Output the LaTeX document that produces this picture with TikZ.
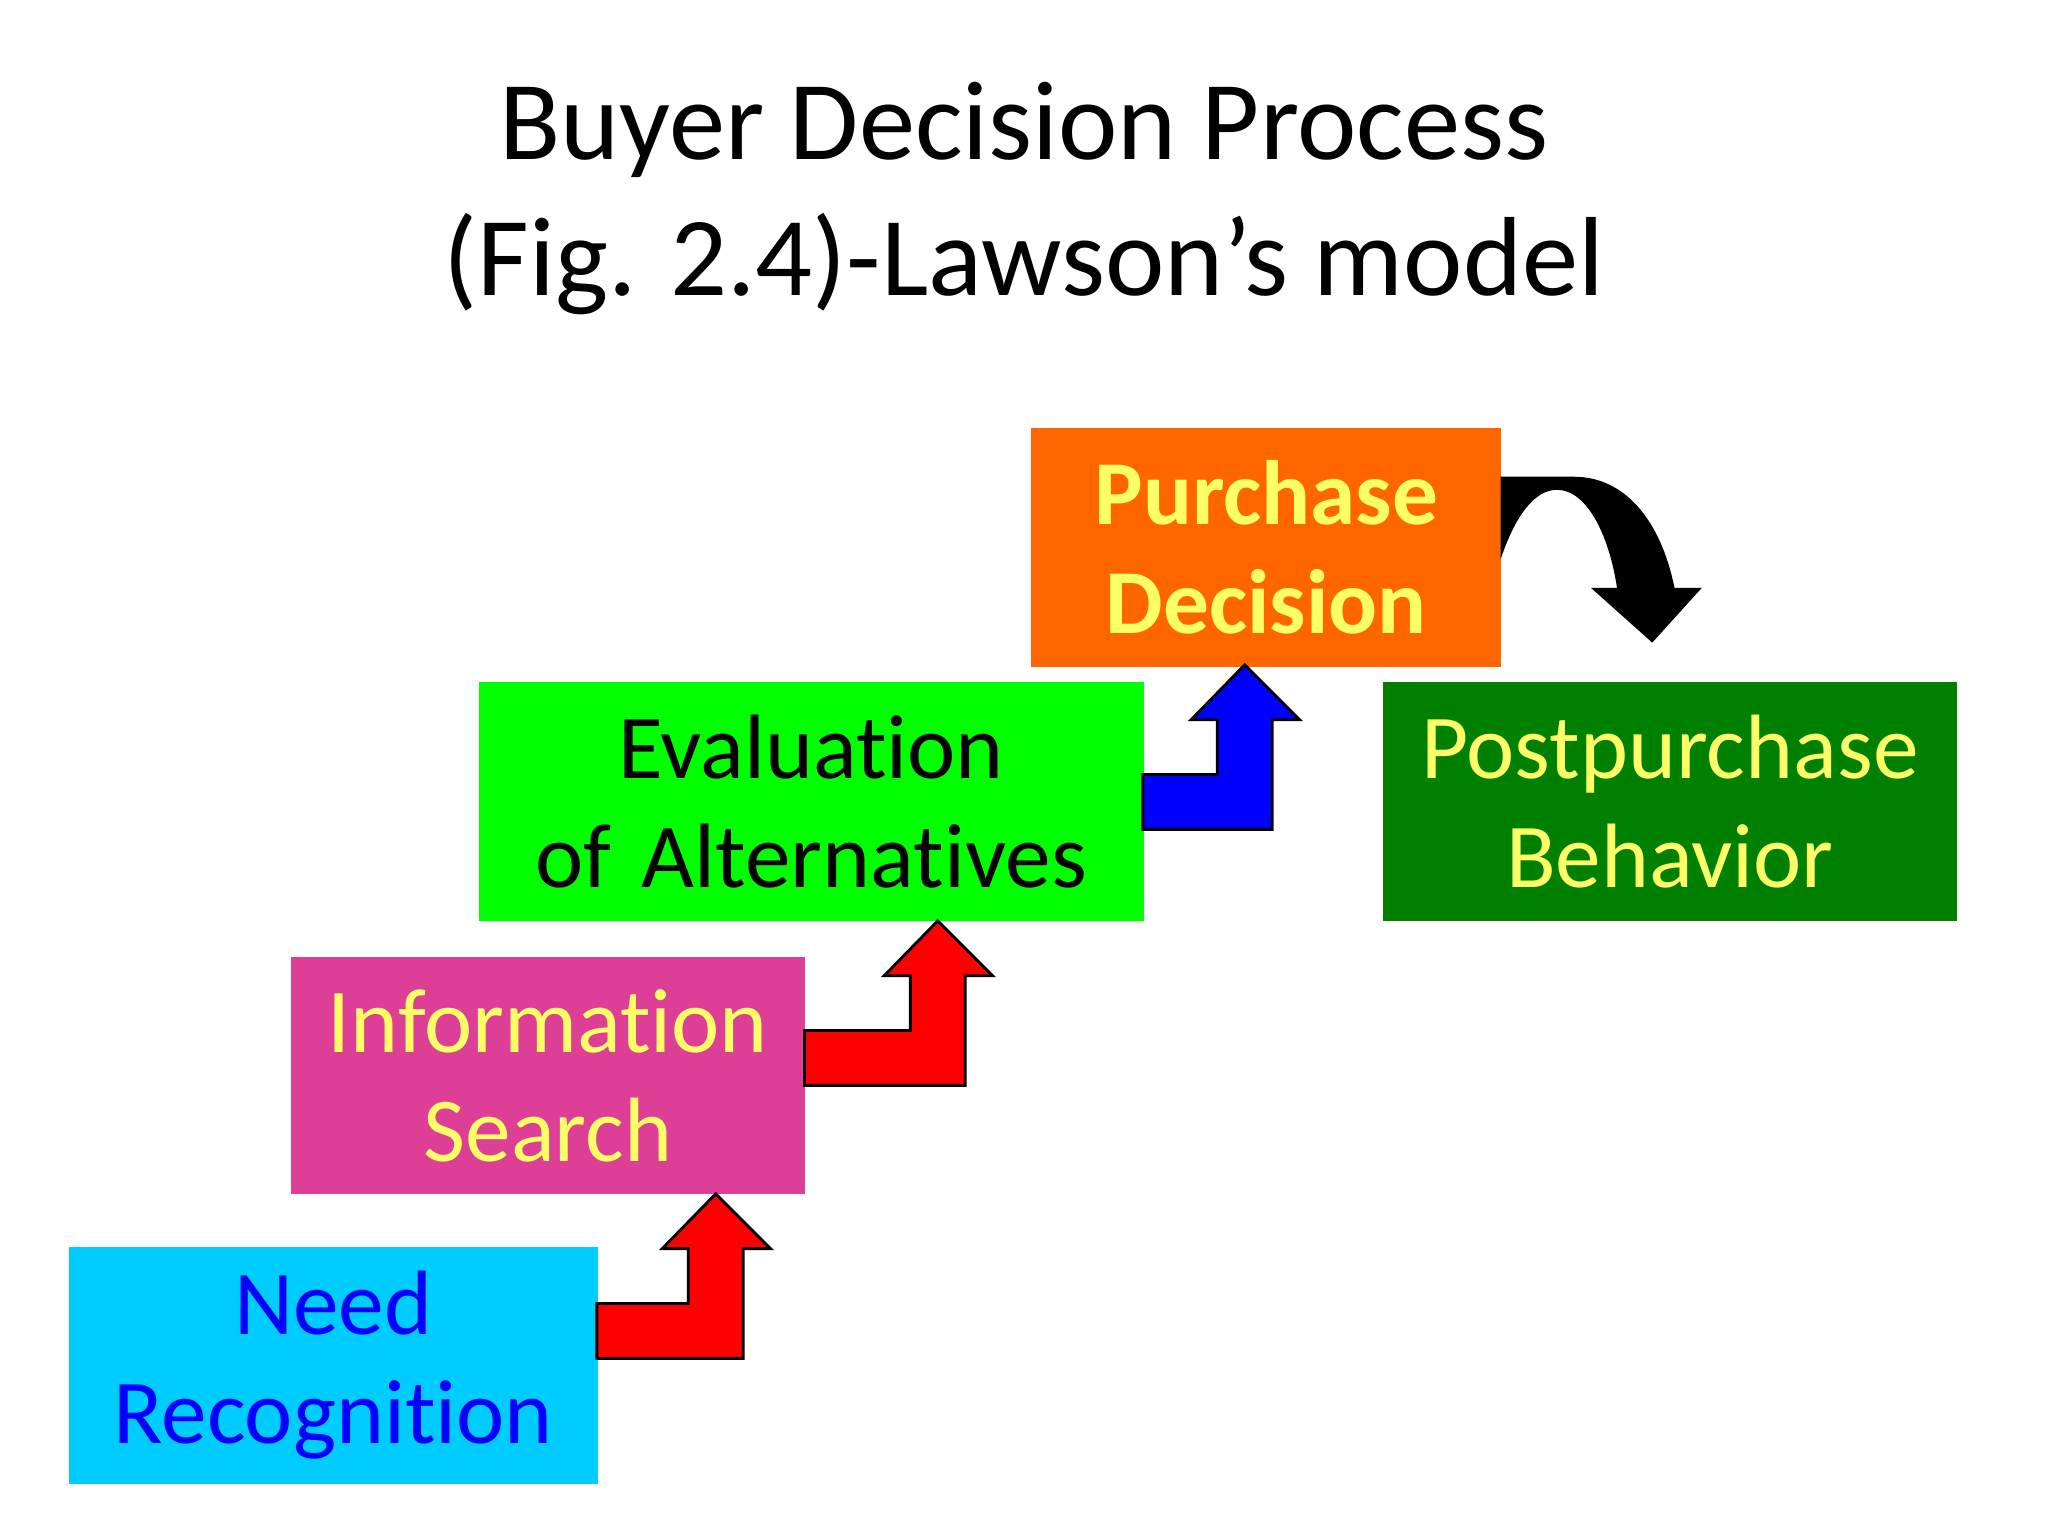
\documentclass[tikz,border=0pt]{standalone}
\usepackage{fontspec}
\setmainfont[RawFeature=-liga]{Carlito}
\begin{document}
\begin{tikzpicture}[x=0.013061cm,y=-0.013061cm,
  box/.style={draw=none,anchor=north west,align=center,inner sep=0pt,font=\fontsize{26}{31}\selectfont},
  bent/.style={draw=black,line width=0.8pt,line join=miter}]
\useasboundingbox (0,0) rectangle (1568,1176);
\definecolor{cyanb}{HTML}{00CCFF}\definecolor{pinkb}{HTML}{DD3E96}
\definecolor{greenb}{HTML}{00FF00}\definecolor{orangeb}{HTML}{FF6600}
\definecolor{dgreen}{HTML}{008000}\definecolor{yel}{HTML}{FFFF66}
\node[align=center,font=\fontsize{32}{38.5}\selectfont] (title) at (784,152) {Buyer Decision Process\\(Fig. 2.4)-Lawson’s model};
\node[box,fill=cyanb,text=blue,text width=5.29cm,minimum height=2.377cm] (need) at (52,954) {Need\\Recognition};
\node[box,fill=pinkb,text=yel,text width=5.146cm,minimum height=2.377cm] (info) at (222,732) {Information\\Search};
\node[box,fill=greenb,text=black,text width=6.648cm,minimum height=2.39cm] (eval) at (366,522) {Evaluation\\of Alternatives};
\node[box,fill=orangeb,text=yel,text width=4.702cm,minimum height=2.39cm,font=\fontsize{26}{31}\selectfont\bfseries] (purch) at (789,327) {Purchase\\Decision};
\node[box,fill=dgreen,text=yel,text width=5.747cm,minimum height=2.39cm] (post) at (1058,522) {Postpurchase\\Behavior};
\newcommand{\bentarrow}[4]{% x-left, band top y, stem offset, colour
  \pgfmathsetmacro{\xa}{#1}\pgfmathsetmacro{\ya}{#2}\pgfmathsetmacro{\s}{#3}
  \filldraw[bent,fill=#4] (\xa,\ya) -- (\xa+\s,\ya) -- (\xa+\s,\ya-42) -- (\xa+\s-20,\ya-42) -- (\xa+\s+21,\ya-84) -- (\xa+\s+63,\ya-42) -- (\xa+\s+42,\ya-42) -- (\xa+\s+42,\ya+42) -- (\xa,\ya+42) -- cycle;}
\bentarrow{457}{998}{70}{red}
\bentarrow{616}{789}{81}{red}
\bentarrow{875}{593}{57}{blue}
\fill[black] (1149,428) .. controls (1160,395) and (1175,375) .. (1192,375)
  .. controls (1215,375) and (1232,410) .. (1238,450) -- (1218,450) -- (1265,492) -- (1303,450) -- (1282,450)
  .. controls (1272,400) and (1245,365) .. (1205,365) -- (1149,365) -- cycle;
\end{tikzpicture}
\end{document}
